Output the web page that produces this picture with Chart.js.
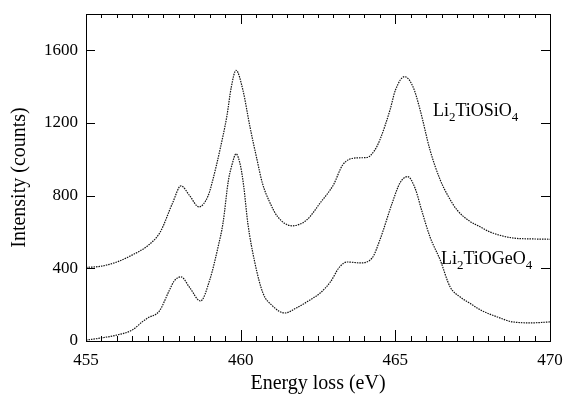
<!DOCTYPE html>
<html>
<head>
<meta charset="utf-8">
<script src="https://cdn.jsdelivr.net/npm/chart.js@4"></script>
<style>
  body { margin: 0; background: #fff; }
</style>
</head>
<body>
<canvas id="myChart" width="563" height="396"></canvas>
<script>
  // Li2TiOSiO4 (upper curve)
  const siEnergy = [
    455.0, 455.5, 456.0, 456.5, 457.0, 457.4, 457.8, 458.07, 458.35, 458.65, 458.95,
    459.1, 459.33, 459.55, 459.7, 459.85, 460.07, 460.3, 460.53, 460.7, 460.95, 461.2,
    461.66, 462.14, 462.57, 463.0, 463.3, 463.75, 464.08, 464.34, 464.5, 464.83, 465.0,
    465.3, 465.57, 465.8, 466.12, 466.45, 466.7, 467.0, 467.4, 467.75, 468.06, 468.8,
    469.4, 470.0
  ];
  const siCounts = [
    405, 412, 435, 474, 525, 600, 760, 854, 800, 738, 800,
    887, 1052, 1234, 1400, 1490, 1383, 1179, 997, 870, 760, 683,
    634, 667, 760, 860, 970, 1008, 1010, 1052, 1107, 1273, 1380,
    1455, 1400, 1273, 1052, 887, 800, 720, 660, 628, 600, 567,
    562, 560
  ];

  // Li2TiOGeO4 (lower curve)
  const geEnergy = [
    455.0, 455.5, 456.0, 456.5, 456.85, 457.0, 457.37, 457.7, 457.85, 458.07, 458.36,
    458.7, 459.0, 459.27, 459.43, 459.6, 459.72, 459.85, 460.0, 460.1, 460.23, 460.46,
    460.72, 461.0, 461.43, 461.8, 462.24, 462.57, 462.9, 463.2, 463.44, 463.86, 464.25,
    464.5, 464.9, 465.15, 465.4, 465.64, 465.85, 466.12, 466.45, 466.77, 467.1, 467.4,
    467.75, 468.3, 468.8, 469.4, 470.0
  ];
  const geCounts = [
    5, 17, 33, 61, 110, 127, 165, 281, 330, 353, 292,
    220, 336, 518, 650, 880, 970, 1030, 960, 850, 650, 430,
    264, 198, 154, 182, 226, 264, 325, 408, 435, 430, 457,
    556, 760, 870, 905, 840, 720, 573, 446, 298, 242, 209,
    171, 132, 105, 100, 105
  ];

  const xTickLabels = [455, 460, 465, 470];
  const yTickLabels = [0, 400, 800, 1200, 1600];

  function toPoints(xs, ys) {
    return xs.map((x, i) => ({ x: x, y: ys[i] }));
  }

  const serif = "'Liberation Serif', 'Times New Roman', serif";

  // frame, inward ticks and the two curve labels
  const framePlugin = {
    id: 'frame',
    afterDraw(chart) {
      const ctx = chart.ctx;
      const a = chart.chartArea;
      const xs = chart.scales.x;
      const ys = chart.scales.y;
      ctx.save();
      ctx.strokeStyle = '#000';
      ctx.lineWidth = 1;
      ctx.strokeRect(a.left + 0.5, a.top + 0.5, a.right - a.left, a.bottom - a.top);

      ctx.beginPath();
      for (let v = 455; v <= 470.001; v += 0.5) {
        const px = Math.round(xs.getPixelForValue(v)) + 0.5;
        const major = xTickLabels.includes(Math.round(v * 10) / 10);
        const len = major ? 11 : 5;
        ctx.moveTo(px, a.bottom);
        ctx.lineTo(px, a.bottom - len);
        ctx.moveTo(px, a.top);
        ctx.lineTo(px, a.top + (major ? 10 : 4));
      }
      yTickLabels.forEach(v => {
        const py = Math.round(ys.getPixelForValue(v)) + 0.5;
        ctx.moveTo(a.left, py);
        ctx.lineTo(a.left + 9, py);
        ctx.moveTo(a.right, py);
        ctx.lineTo(a.right - 9, py);
      });
      ctx.stroke();

      function formula(parts, x, y) {
        let cx = x;
        parts.forEach(p => {
          const sub = p[1];
          ctx.font = (sub ? 13 : 18) + 'px ' + serif;
          ctx.fillText(p[0], cx, sub ? y + 5 : y);
          cx += ctx.measureText(p[0]).width;
        });
      }
      ctx.fillStyle = '#000';
      ctx.textBaseline = 'alphabetic';
      formula([['Li', 0], ['2', 1], ['TiOSiO', 0], ['4', 1]], 433, 116);
      formula([['Li', 0], ['2', 1], ['TiOGeO', 0], ['4', 1]], 441, 264);
      ctx.restore();
    }
  };

  const lineStyle = {
    borderColor: '#111',
    borderWidth: 1.2,
    borderDash: [1.5, 1],
    pointRadius: 0,
    fill: false,
    cubicInterpolationMode: 'monotone'
  };

  const data = {
    datasets: [
      Object.assign({ label: 'Li2TiOSiO4', data: toPoints(siEnergy, siCounts) }, lineStyle),
      Object.assign({ label: 'Li2TiOGeO4', data: toPoints(geEnergy, geCounts) }, lineStyle)
    ]
  };

  const config = {
    type: 'line',
    data: data,
    options: {
      responsive: false,
      animation: false,
      layout: { padding: { top: 14, right: 13, left: 0, bottom: 0 } },
      plugins: { legend: { display: false }, tooltip: { enabled: false } },
      scales: {
        x: {
          type: 'linear',
          min: 455,
          max: 470,
          grid: { display: false, drawTicks: false },
          border: { display: false },
          afterBuildTicks(scale) {
            scale.ticks = xTickLabels.map(v => ({ value: v }));
          },
          afterFit(scale) {
            scale.height = 55;
            scale.paddingLeft = 0;
            scale.paddingRight = 0;
          },
          ticks: {
            color: '#000',
            padding: 9,
            callback: v => String(v),
            font: { family: serif, size: 17 }
          },
          title: {
            display: true,
            text: 'Energy loss (eV)',
            color: '#000',
            padding: { top: 0, bottom: 0 },
            font: { family: serif, size: 20 }
          }
        },
        y: {
          min: 0,
          max: 1800,
          grid: { display: false, drawTicks: false },
          border: { display: false },
          afterBuildTicks(scale) {
            scale.ticks = yTickLabels.map(v => ({ value: v }));
          },
          afterFit(scale) {
            scale.width = 86;
            scale.paddingTop = 0;
            scale.paddingBottom = 0;
          },
          ticks: {
            color: '#000',
            padding: 8,
            callback: v => String(v),
            font: { family: serif, size: 17 }
          },
          title: {
            display: true,
            text: 'Intensity (counts)',
            color: '#000',
            padding: { top: 8, bottom: 0 },
            font: { family: serif, size: 20 }
          }
        }
      }
    },
    plugins: [framePlugin]
  };

  const myChart = new Chart(
    document.getElementById('myChart'),
    config
  );
</script>
</body>
</html>
